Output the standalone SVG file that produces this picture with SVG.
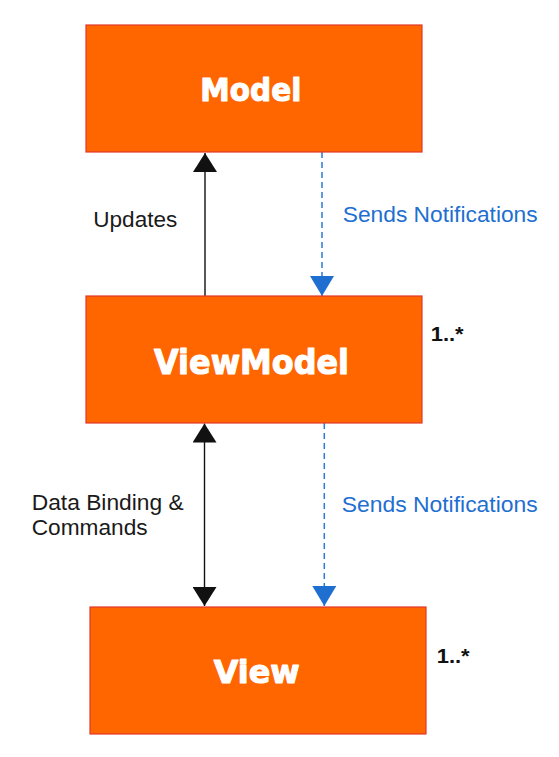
<svg xmlns="http://www.w3.org/2000/svg" width="559" height="757" viewBox="0 0 559 757">
<defs>
<style>
.box{fill:#FF6600;stroke:#E2382A;stroke-width:1.2}
.title{font-family:"DejaVu Sans","Liberation Sans",sans-serif;font-weight:bold;fill:#FFFFFF;stroke:#FFFFFF;stroke-width:1.1;stroke-linejoin:round;text-anchor:middle}
.lbl{font-family:"Liberation Sans",Arial,sans-serif;font-size:21.5px;fill:#1A1A1A}
.blue{font-family:"Liberation Sans",Arial,sans-serif;font-size:22px;fill:#1F6FD1}
.mult{font-family:"Liberation Sans",Arial,sans-serif;font-size:20px;font-weight:bold;fill:#111111}
.solid{stroke:#111111;stroke-width:1.4;fill:none}
.dash{stroke:#2A7AD6;stroke-width:1.5;stroke-dasharray:6 4;fill:none}
</style>
<marker id="ab" markerUnits="userSpaceOnUse" markerWidth="20" markerHeight="24" viewBox="0 0 20 24" refX="19" refY="12" orient="auto-start-reverse">
<path d="M0,0 L19,12 L0,24 z" fill="#111111"/>
</marker>
<marker id="au" markerUnits="userSpaceOnUse" markerWidth="21" markerHeight="24" viewBox="0 0 21 24" refX="20" refY="12" orient="auto">
<path d="M0,0 L20,12 L0,24 z" fill="#1F6FD1"/>
</marker>
</defs>
<rect width="559" height="757" fill="#FFFFFF"/>
<g id="connectors">
<line class="solid" x1="205" y1="296" x2="205" y2="153" marker-end="url(#ab)"/>
<line class="dash" x1="322" y1="152" x2="322" y2="296" marker-end="url(#au)"/>
<line class="solid" x1="204.5" y1="423.5" x2="204.5" y2="606" marker-start="url(#ab)" marker-end="url(#ab)"/>
<line class="dash" x1="324.3" y1="423" x2="324.3" y2="606" marker-end="url(#au)"/>
<text class="lbl" x="93.3" y="227.3" textLength="84" lengthAdjust="spacingAndGlyphs">Updates</text>
<text class="blue" x="342.7" y="222.3" textLength="195" lengthAdjust="spacingAndGlyphs">Sends Notifications</text>
<text class="lbl" x="31.7" y="510" textLength="152" lengthAdjust="spacingAndGlyphs">Data Binding &amp;</text>
<text class="lbl" x="31.7" y="535" textLength="116" lengthAdjust="spacingAndGlyphs">Commands</text>
<text class="blue" x="341.7" y="511.7" textLength="196" lengthAdjust="spacingAndGlyphs">Sends Notifications</text>
</g>
<g id="model">
<rect class="box" x="86" y="25" width="336" height="127"/>
<text class="title" x="250.8" y="100.7" font-size="32" textLength="101" lengthAdjust="spacingAndGlyphs">Model</text>
</g>
<g id="viewmodel">
<rect class="box" x="86" y="296" width="336" height="127"/>
<text class="title" x="251.5" y="374" font-size="34" textLength="195" lengthAdjust="spacingAndGlyphs">ViewModel</text>
<text class="mult" x="430.7" y="340.7" textLength="33" lengthAdjust="spacingAndGlyphs">1..*</text>
</g>
<g id="view">
<rect class="box" x="90" y="607" width="336" height="127"/>
<text class="title" x="256.7" y="683" font-size="32" textLength="86" lengthAdjust="spacingAndGlyphs">View</text>
<text class="mult" x="436.7" y="662.7" textLength="33" lengthAdjust="spacingAndGlyphs">1..*</text>
</g>
</svg>
